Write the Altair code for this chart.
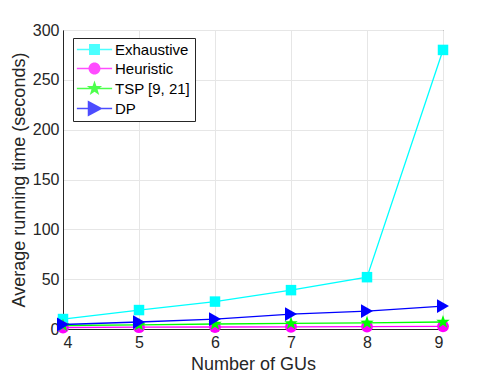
import altair as alt
import pandas as pd

gus = [4, 5, 6, 7, 8, 9]
series_names = ["Exhaustive", "Heuristic", "TSP [9, 21]", "DP"]
exhaustive = [10, 19, 27.5, 39, 52, 280]
heuristic = [1.5, 1.8, 2.0, 2.2, 2.4, 2.7]
tsp = [3.5, 4.2, 5.0, 5.6, 6.2, 7.0]
dp = [4.5, 7.0, 10.0, 15.0, 18.0, 23.0]

colors = ["#00FFFF", "#FF00FF", "#00FF00", "#0000FF"]


def star_path(r):
    pts = [(0, -1), (0.235, -0.324), (0.951, -0.309), (0.380, 0.124), (0.588, 0.809),
           (0, 0.4), (-0.588, 0.809), (-0.380, 0.124), (-0.951, -0.309), (-0.235, -0.324)]
    return "M" + "L".join(f"{px * r:.3f},{py * r:.3f}" for px, py in pts) + "Z"


# marker shapes for the plotted points
mark_shapes = ["square", "circle", star_path(1.0), "triangle-right"]
mark_sizes = [110, 140, 200, 190]

# legend glyphs: a short line segment through the marker (MATLAB style)
seg = "M-2.35,-0.1H2.35V0.1H-2.35Z"
legend_shapes = [
    seg + "M-0.73,-0.73H0.73V0.73H-0.73Z",
    seg + "M-0.8,0A0.8,0.8,0,1,1,0.8,0A0.8,0.8,0,1,1,-0.8,0Z",
    seg + star_path(1.07),
    seg + "M-0.9,-1.07L1.1,0L-0.9,1.07Z",
]

rows = []
for name, vals in zip(series_names, [exhaustive, heuristic, tsp, dp]):
    for g, v in zip(gus, vals):
        rows.append({"GUs": g, "time": v, "method": name})
df = pd.DataFrame(rows)

font = "Liberation Sans"

x = alt.X("GUs:Q", title="Number of GUs",
          scale=alt.Scale(domain=[4, 9], nice=False),
          axis=alt.Axis(values=gus, format="d", ticks=False, labelPadding=5,
                        titlePadding=5, gridColor="#e6e6e6", domainColor="#262626"))
y = alt.Y("time:Q", title="Average running time (seconds)",
          scale=alt.Scale(domain=[0, 300], nice=False),
          axis=alt.Axis(values=[0, 50, 100, 150, 200, 250, 300], ticks=False,
                        labelPadding=4, titlePadding=4, gridColor="#e6e6e6",
                        domainColor="#262626"))

base = alt.Chart(df)
layers = []
for name, col, shp, sz in zip(series_names, colors, mark_shapes, mark_sizes):
    sub = base.transform_filter(alt.datum.method == name)
    layers.append(sub.mark_line(strokeWidth=1.3, color=col).encode(x=x, y=y))
    layers.append(sub.mark_point(filled=True, size=sz, opacity=1, color=col,
                                 shape=shp).encode(x=x, y=y))

legend_layer = base.transform_filter("false").mark_point(filled=True).encode(
    x=x, y=y,
    color=alt.Color("method:N", scale=alt.Scale(domain=series_names, range=colors),
                    legend=alt.Legend(title=None, orient="none", legendX=10, legendY=8,
                                      fillColor="white", strokeColor="#262626",
                                      padding=4, symbolSize=225, symbolStrokeWidth=0,
                                      symbolOffset=10, labelOffset=13,
                                      labelFontSize=15, labelFont=font,
                                      labelColor="#000000", rowPadding=3)),
    shape=alt.Shape("method:N", scale=alt.Scale(domain=series_names, range=legend_shapes)),
)
layers.append(legend_layer)

chart = alt.layer(*layers).properties(
    width=380, height=299, background="white",
    padding={"left": 2, "top": 14, "right": 5, "bottom": 5}
).configure_view(
    stroke="#262626", strokeWidth=1
).configure_axis(
    labelFont=font, titleFont=font, labelFontSize=16, titleFontSize=18,
    labelColor="#262626", titleColor="#262626", titleFontWeight="normal"
)

chart.save("out.html", embed_options={"renderer": "svg", "actions": False})
